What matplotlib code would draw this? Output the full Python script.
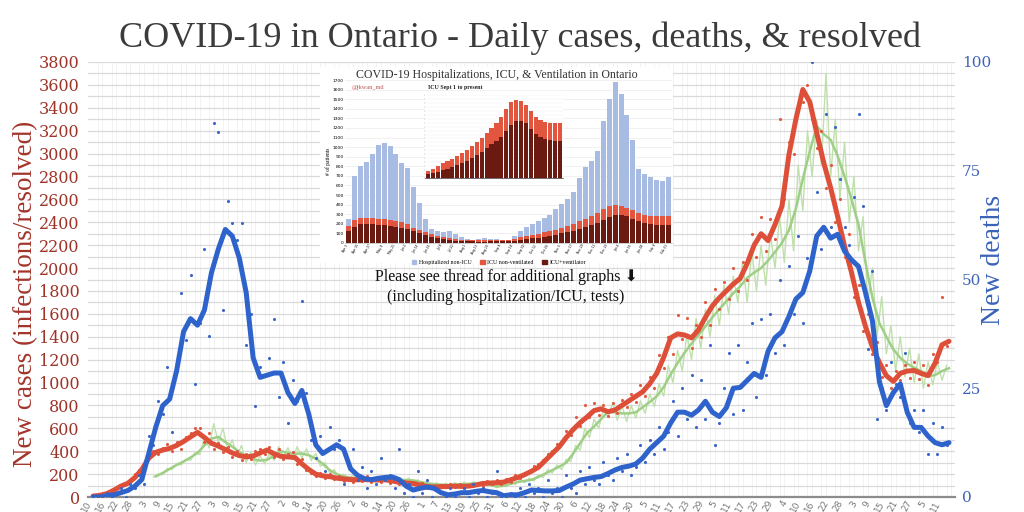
import matplotlib
matplotlib.use('Agg')
import matplotlib.pyplot as plt
import numpy as np
import pandas as pd
from matplotlib.patches import Patch

# ---------------- data (day 0 = 2020-03-10) ----------------
start_date = '2020-03-10'

case_avg_days = list(range(0, 370, 3))
case_avg = [8,15,30,60,95,120,170,240,340,390,
            410,425,450,485,525,565,520,470,445,415,
            385,362,350,358,385,410,378,355,350,345,
            290,240,200,185,178,165,158,152,150,152,
            150,148,150,140,128,122,118,105,92,88,
            90,92,95,92,95,105,118,122,125,130,
            150,170,195,225,260,320,380,440,520,590,
            650,700,755,770,745,760,800,840,880,920,
            990,1080,1220,1390,1425,1415,1390,1460,1570,1670,
            1740,1800,1860,1910,2040,2200,2300,2240,2380,2540,
            2990,3300,3560,3450,3180,2920,2700,2450,2190,1960,
            1700,1490,1310,1175,1060,1010,1080,1100,1105,1080,
            1060,1170,1330,1360]

death_avg_days = list(range(0, 370, 3))
death_avg = [0,0,0.3,0.5,1,1.5,2.5,4,10,16,
             21,22.5,29,38,41,39.5,43,51.5,57,61.5,
             60,55,47,32,27.5,28,28.5,28.5,24,21.5,
             24.5,19,12,10,11,12,11,6.5,5,4.2,
             4,4.3,4.5,4.6,4,2.5,1.6,2,2.3,2,
             1,0.5,0.7,1,1,1.3,1.5,1.2,1,0.3,
             0.5,0.5,1,1.6,1.5,1.4,1.4,1.5,2.3,3,
             3.9,4.2,4.5,4.7,5.4,6.2,6.8,7.1,7.6,9,
             11,12.5,14,17,19.5,19.5,18.8,20,22,19.5,
             18.5,20.5,25,25.2,26.8,28.4,27.5,33.5,36.6,38,
             41.5,45.5,47,52,60,62,59.5,60.4,56.5,54.5,
             53,47,40.5,26.5,21,24,26,19.5,16,16,
             14,12.5,12,12.5]

resolved_avg_days = list(range(27, 370, 3))
resolved_avg = [180,210,245,280,310,345,385,450,510,525,
                480,440,395,355,330,318,325,360,400,385,
                378,380,365,335,290,235,200,180,168,160,
                155,152,150,150,152,150,148,145,132,120,
                112,108,105,108,112,115,118,118,105,92,
                98,115,130,140,150,175,205,235,265,300,
                380,470,560,615,680,745,740,730,730,740,
                785,830,880,960,1070,1170,1260,1340,1415,1490,
                1570,1640,1710,1780,1840,1915,1960,2000,2065,2140,
                2220,2330,2520,2780,3020,3240,3170,3120,2980,2800,
                2600,2380,2050,1740,1520,1400,1290,1215,1165,1130,
                1100,1055,1065,1100,1125]

daily_days = list(range(0, 369, 2))
cases_daily = [5,10,22,32,60,80,90,110,120,200,
               240,260,370,400,375,430,460,400,480,420,
               520,560,600,600,480,560,420,470,390,440,
               350,400,320,380,330,400,420,380,440,350,
               420,330,380,390,290,330,240,210,180,210,
               170,200,160,180,140,170,130,160,140,180,
               130,165,130,170,120,150,110,140,100,130,
               95,120,80,100,75,105,85,110,90,110,
               80,105,95,125,100,140,110,150,115,160,
               130,190,170,210,230,270,290,320,380,400,
               460,490,580,540,700,620,800,700,820,720,
               800,710,820,730,850,790,900,830,980,880,
               1050,950,1240,1130,1400,1250,1590,1380,1560,1300,
               1500,1400,1700,1500,1820,1640,1880,1730,2000,1800,
               2050,1900,2300,2100,2450,2150,2430,2250,3300,2600,
               3100,3000,3400,3450,3600,3300,3050,3200,2700,2900,
               2400,2600,2100,2300,1750,1850,1450,1600,1250,1350,
               1050,1150,950,1100,1020,1150,1040,1180,1030,1150,
               980,1250,1180,1750,1320]

deaths_daily = [0,0,0,1,0,1,2,0,3,2,
                5,3,14,12,22,19,30,15,29,47,
                36,51,26,40,57,37,86,84,43,68,
                63,59,63,35,42,21,30,28,32,41,
                23,31,17,27,22,45,24,13,9,14,
                6,16,11,13,3,8,11,4,7,2,
                6,3,9,4,5,2,11,1,3,0,
                6,1,4,0,2,1,0,2,0,1,
                2,0,3,1,2,0,1,6,0,0,
                1,0,2,0,3,1,2,0,4,1,
                2,0,5,2,1,6,3,7,4,3,
                8,5,4,9,6,10,5,7,12,8,
                13,10,16,11,15,22,14,25,18,28,
                16,27,18,35,12,17,25,33,19,35,
                20,31,40,23,41,28,42,33,50,35,
                53,42,60,40,55,100,70,57,88,62,
                85,73,62,58,69,88,67,34,52,18,
                25,20,31,26,23,33,17,20,15,20,
                10,17,10,16,12]

resolved_daily_days = list(range(26, 369, 2))
resolved_daily = [175,200,195,250,240,290,280,330,320,390,
                  370,520,430,640,480,600,410,500,360,450,
                  300,390,280,360,290,380,320,440,350,430,
                  330,440,340,420,320,380,270,300,210,240,
                  170,200,160,190,140,175,140,170,135,165,
                  140,165,135,170,130,165,125,150,110,135,
                  100,125,95,120,95,125,100,130,100,135,
                  105,135,95,115,80,110,90,130,110,150,
                  125,165,140,195,170,240,210,280,240,330,
                  310,450,410,600,520,680,600,770,700,820,
                  670,800,660,800,690,840,730,900,790,990,
                  880,1150,1000,1280,1100,1420,1200,1560,1300,1640,
                  1400,1760,1500,1850,1600,1930,1700,2050,1700,2150,
                  1800,2200,1850,2300,2000,2450,2050,2600,2150,2900,
                  2500,3200,2800,3300,2900,3700,2800,3300,2600,3100,
                  2400,2800,2150,2450,1700,2000,1400,1750,1250,1500,
                  1100,1400,1050,1300,1000,1250,950,1180,980,1180,
                  1020,1150]

# inset: hospitalizations (patients)
hosp_total = [250,700,800,840,930,1020,1040,1010,930,830,
              780,580,420,255,150,128,112,130,95,60,
              45,35,40,50,45,38,35,35,70,130,
              165,200,230,260,295,350,410,460,530,680,
              790,860,960,1270,1500,1680,1550,1340,1070,770,
              720,690,655,650,690]
icu_total = [180,240,265,265,260,255,250,240,230,215,
             195,160,135,110,90,75,60,50,40,35,
             30,28,28,28,30,30,32,35,45,60,
             75,85,95,110,125,140,160,180,200,230,
             255,280,310,350,385,395,390,370,340,310,
             295,285,280,280,280]
icu_vent = [120,170,200,200,195,190,185,180,170,160,
            145,120,100,80,60,50,40,32,25,20,
            18,16,15,15,16,17,18,20,25,32,
            40,48,55,65,75,85,100,115,130,150,
            170,185,205,240,270,290,290,280,250,225,
            205,195,190,185,185]
icu_sept_index = 27

# ---------------- figure ----------------
RED = '#dd4f38'
BLUE = '#2f63cc'
GREEN = '#9fcf86'
GREEN_THIN = '#bfe0ab'
SERIF = ['Liberation Serif', 'DejaVu Serif']

fig = plt.figure(figsize=(10.24, 5.12), dpi=100)
ax = fig.add_axes([88/1024, 15/512, 867/1024, 435/512])
ax.set_xlim(-2.2, 371.6)
ax.set_ylim(0, 3800)

ax.set_yticks(range(0, 3801, 200))
ax.set_yticks(range(100, 3800, 200), minor=True)
ax.set_yticklabels([str(v) for v in range(0, 3801, 200)])
tick_days = list(range(0, 367, 6))
tick_labels = [str(d.day) for d in pd.date_range(start_date, periods=len(tick_days), freq='6D')]
ax.set_xticks(tick_days)
ax.set_xticklabels(tick_labels, rotation=60, ha='right', va='top', fontsize=6.5, color='#777777')
ax.set_xticks(np.arange(0, 372, 2), minor=True)
ax.grid(which='minor', axis='x', color='#f0f0f0', lw=0.6)
ax.grid(which='both', axis='y', color='#dadada', lw=0.9)
ax.tick_params(which='both', length=0)
ax.tick_params(axis='x', pad=1.5)
ax.tick_params(axis='y', labelsize=11.5, labelcolor='#9e3328', pad=6)
for lab in ax.get_yticklabels():
    lab.set_family('DejaVu Serif')
for s in ['top', 'left', 'right']:
    ax.spines[s].set_visible(False)
ax.spines['bottom'].set_color('#8c8c8c')
ax.spines['bottom'].set_linewidth(1.6)
ax.set_axisbelow(True)

ax.plot(resolved_daily_days, resolved_daily, color=GREEN_THIN, lw=1.0, zorder=2)
ax.plot(resolved_avg_days, resolved_avg, color=GREEN, lw=1.8, zorder=3)
ax.scatter(daily_days, cases_daily, s=5, color='#e0583f', zorder=4, linewidths=0)
ax.plot(case_avg_days, case_avg, color=RED, lw=3.6, zorder=5, solid_capstyle='round')

ax2 = ax.twinx()
ax2.set_ylim(0, 100)
ax2.set_yticks([0, 25, 50, 75, 100])
ax2.tick_params(length=0, labelsize=11, labelcolor='#3e63b6', pad=5)
for lab in ax2.get_yticklabels():
    lab.set_family('DejaVu Serif')
for s in ax2.spines.values():
    s.set_visible(False)
ax2.scatter(daily_days, deaths_daily, s=5, color='#3966c8', zorder=4, linewidths=0)
ax2.plot(death_avg_days, death_avg, color=BLUE, lw=3.6, zorder=5, solid_capstyle='round')

fig.text(0.508, 1 - 38/512, 'COVID-19 in Ontario - Daily cases, deaths, & resolved',
         ha='center', va='center', fontsize=26, family=SERIF, color='#3b3b3b')
fig.text(26/1024, 1 - 294/512, 'New cases (infections/resolved)', rotation=90,
         ha='center', va='center', fontsize=19.5, family=SERIF, color='#a3352b')
fig.text(993/1024, 1 - 260/512, 'New deaths', rotation=90,
         ha='center', va='center', fontsize=20, family=SERIF, color='#3a63b8')

# ---------------- inset image-like chart ----------------
box = fig.add_axes([320/1024, 249/512, 353/1024, 196/512])
box.set_zorder(5)
box.set_facecolor('white')
box.set_xticks([]); box.set_yticks([])
for s in box.spines.values():
    s.set_visible(False)

hx = fig.add_axes([345/1024, (512-243)/512, 327/1024, 163/512])
hx.set_zorder(6)
idx = np.arange(len(hosp_total))
hx.bar(idx, hosp_total, width=0.85, color='#a8bbe2', zorder=2)
hx.bar(idx, icu_total, width=0.85, color='#e2553e', zorder=3)
hx.bar(idx, icu_vent, width=0.85, color='#6b1a12', zorder=4)
hx.set_ylim(0, 1700)
hx.set_xlim(-0.6, len(hosp_total) - 0.4)
hx.set_yticks(range(0, 1701, 100))
hx.tick_params(axis='y', labelsize=3.2, length=0, pad=1)
hosp_dates = pd.date_range('2020-04-03', periods=len(hosp_total), freq='6D')
hx.set_xticks(idx[::2])
hx.set_xticklabels([d.strftime('%b %-d') for d in hosp_dates[::2]], rotation=60, ha='right', fontsize=2.2)
hx.tick_params(axis='x', length=0, pad=0.5)
hx.grid(axis='y', color='#e6e6e6', lw=0.4)
hx.set_axisbelow(True)
for s in ['top', 'left', 'right']:
    hx.spines[s].set_visible(False)
hx.spines['bottom'].set_color('#bbbbbb')
hx.spines['bottom'].set_linewidth(0.5)
hx.set_ylabel('# of patients', fontsize=4, family=SERIF, labelpad=1)
hx.legend(handles=[Patch(color='#a8bbe2', label='Hospitalized non-ICU'),
                   Patch(color='#e2553e', label='ICU non-ventilated'),
                   Patch(color='#6b1a12', label='ICU+ventilator')],
          loc='upper center', bbox_to_anchor=(0.47, -0.07), ncol=3, frameon=False,
          prop={'family': SERIF, 'size': 4.2}, handlelength=0.8, handleheight=0.8,
          columnspacing=1.5, handletextpad=0.4)

fig.text(497/1024, 1 - 75/512, 'COVID-19 Hospitalizations, ICU, & Ventilation in Ontario',
         ha='center', va='center', fontsize=8.6, family=SERIF, color='#333333', zorder=10)
fig.text(352/1024, 1 - 88/512, '@jkwan_md', ha='left', va='center', fontsize=4.5,
         family=SERIF, color='#c0504d', zorder=10)

nx = fig.add_axes([425/1024, (512-178)/512, 138/1024, 83/512])
nx.set_zorder(7)
sub = np.arange(len(icu_total) - icu_sept_index)
nx.bar(sub, icu_total[icu_sept_index:], width=0.85, color='#e2553e')
nx.bar(sub, icu_vent[icu_sept_index:], width=0.85, color='#6b1a12')
nx.set_xlim(-0.6, len(sub) - 0.4)
nx.set_ylim(0, 420)
nx.set_yticks(range(0, 421, 20))
nx.set_yticklabels(['' for _ in range(0, 421, 20)])
nx.tick_params(axis='y', length=1, width=0.3, color='#999999')
nx.set_xticks(sub)
nx.set_xticklabels(['' for _ in sub])
nx.tick_params(axis='x', length=1, width=0.3, color='#999999')
nx.grid(axis='y', color='#eeeeee', lw=0.3)
nx.set_axisbelow(True)
for s in ['top', 'left', 'right']:
    nx.spines[s].set_visible(False)
nx.spines['bottom'].set_linewidth(0.4)
fig.text(428/1024, 1 - 88/512, 'ICU Sept 1 to present', ha='left', va='center',
         fontsize=4.2, family=SERIF, weight='bold', color='#222222', zorder=10)

fig.text(506/1024, 1 - 277/512, 'Please see thread for additional graphs \u2b07',
         ha='center', va='center', fontsize=11.5, family=['Liberation Serif', 'DejaVu Sans'],
         color='#111111', zorder=10)
fig.text(506/1024, 1 - 297/512, '(including hospitalization/ICU, tests)',
         ha='center', va='center', fontsize=11.5, family=SERIF, color='#111111', zorder=10)

fig.savefig('out.png', dpi=100)
